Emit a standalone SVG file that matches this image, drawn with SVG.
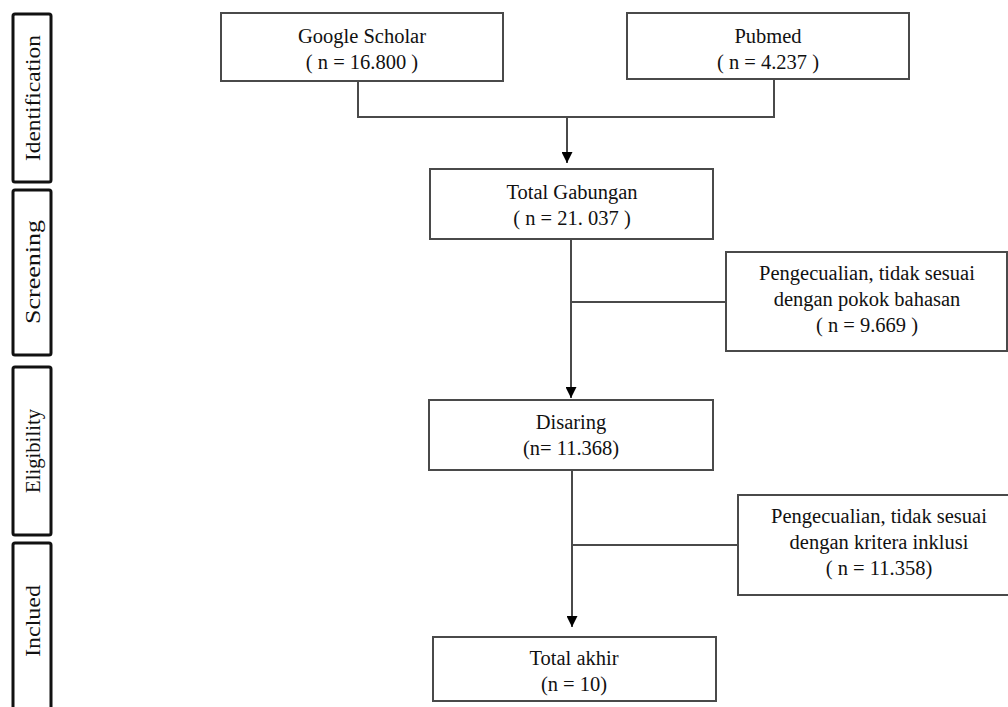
<svg xmlns="http://www.w3.org/2000/svg" width="1008" height="707" viewBox="0 0 1008 707">
<defs>
<style>
.box{fill:#fff;stroke:#4a4a4a;stroke-width:2}
.side{fill:#fff;stroke:#111;stroke-width:3}
.t{font-family:"Liberation Serif","Times New Roman",serif;font-size:20.5px;fill:#111;text-anchor:middle}
.st{font-family:"Liberation Serif","Times New Roman",serif;font-size:21px;fill:#111;text-anchor:middle}
.ln{fill:none;stroke:#4a4a4a;stroke-width:2}
</style>
<marker id="ah" viewBox="0 0 10 10" refX="10" refY="5" markerWidth="11" markerHeight="11" markerUnits="userSpaceOnUse" orient="auto">
<path d="M0,0 L10,5 L0,10 Z" fill="#000"/>
</marker>
</defs>
<rect width="1008" height="707" fill="#fff"/>

<g id="stage-identification">
<rect class="side" x="13" y="14" width="38" height="168" rx="2"/>
<text class="st" transform="translate(40,98) rotate(-90)" textLength="126" lengthAdjust="spacingAndGlyphs">Identification</text>
</g>
<g id="stage-screening">
<rect class="side" x="13" y="190" width="38" height="165" rx="2"/>
<text class="st" transform="translate(40,272) rotate(-90)" textLength="104" lengthAdjust="spacingAndGlyphs">Screening</text>
</g>
<g id="stage-eligibility">
<rect class="side" x="13" y="367" width="38" height="168" rx="2"/>
<text class="st" transform="translate(40,451) rotate(-90)" textLength="84" lengthAdjust="spacingAndGlyphs">Eligibility</text>
</g>
<g id="stage-included">
<rect class="side" x="13" y="543" width="38" height="175" rx="2"/>
<text class="st" transform="translate(40,621) rotate(-90)" textLength="72" lengthAdjust="spacingAndGlyphs">Inclued</text>
</g>

<g id="connectors">
<path class="ln" d="M358,81 V117 H774 V79"/>
<path class="ln" d="M567,117 V163" marker-end="url(#ah)"/>
<path class="ln" d="M571,239 V398" marker-end="url(#ah)"/>
<path class="ln" d="M571,302 H726"/>
<path class="ln" d="M572,470 V627" marker-end="url(#ah)"/>
<path class="ln" d="M572,545 H738"/>
</g>

<g id="google-scholar">
<rect class="box" x="221" y="13" width="282" height="68"/>
<text class="t" x="362" y="43">Google Scholar</text>
<text class="t" x="362" y="69">( n = 16.800 )</text>
</g>
<g id="pubmed">
<rect class="box" x="627" y="13" width="282" height="66"/>
<text class="t" x="768" y="43">Pubmed</text>
<text class="t" x="768" y="69">( n = 4.237 )</text>
</g>
<g id="total-gabungan">
<rect class="box" x="430" y="169" width="283" height="70"/>
<text class="t" x="572" y="199">Total Gabungan</text>
<text class="t" x="572" y="225">( n = 21. 037 )</text>
</g>
<g id="exclusion-1">
<rect class="box" x="726" y="252" width="281" height="99"/>
<text class="t" x="867" y="280">Pengecualian, tidak sesuai</text>
<text class="t" x="867" y="306">dengan pokok bahasan</text>
<text class="t" x="867" y="332">( n = 9.669 )</text>
</g>
<g id="disaring">
<rect class="box" x="429" y="400" width="284" height="70"/>
<text class="t" x="571" y="429">Disaring</text>
<text class="t" x="571" y="455">(n= 11.368)</text>
</g>
<g id="exclusion-2">
<rect class="box" x="738" y="495" width="284" height="100"/>
<text class="t" x="879" y="523">Pengecualian, tidak sesuai</text>
<text class="t" x="879" y="549">dengan kritera inklusi</text>
<text class="t" x="879" y="575">( n = 11.358)</text>
</g>
<g id="total-akhir">
<rect class="box" x="433" y="637" width="283" height="64"/>
<text class="t" x="574" y="665">Total akhir</text>
<text class="t" x="574" y="691">(n = 10)</text>
</g>
</svg>
